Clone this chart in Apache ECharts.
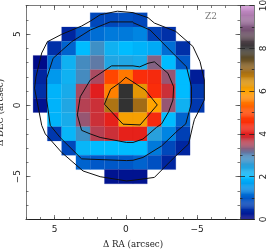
<!DOCTYPE html>
<html><head><meta charset="utf-8">
<style>html,body{margin:0;padding:0;background:#fff}#c{width:266px;height:249px}</style>
<script src="https://cdn.jsdelivr.net/npm/echarts@6/dist/echarts.min.js"></script>
</head><body><div id="c"></div>
<script>
// rows: [dec, first RA (leftmost), values going toward decreasing RA]
const row6  = [6, 2, [0.8,0.8,0.9,0.8]];
const row5  = [5, 4, [0.4,1.0,1.2,1.3,1.3,1.4,0.7,0.5]];
const row4  = [4, 5, [0.5,1.1,2.0,2.8,2.2,2.0,1.9,1.8,1.2,0.5]];
const row3  = [3, 6, [0.1,1.2,2.2,2.9,3.1,2.4,2.4,2.3,3.3,2.0,1.0]];
const row2  = [2, 6, [0.4,1.6,2.2,2.9,3.5,5.0,5.5,4.5,4.4,3.4,2.0,0.3]];
const row1  = [1, 6, [0.5,1.9,2.3,3.5,4.0,5.6,8.0,6.3,4.5,3.8,2.0,0.6]];
const row0  = [0, 6, [0.2,1.9,2.4,3.6,3.8,6.8,8.0,6.9,6.0,3.4,2.2,0.6]];
const rowM1 = [-1,5, [1.9,2.3,3.4,3.8,4.1,6.1,6.1,4.4,2.0,1.1]];
const rowM2 = [-2,5, [0.6,2.1,2.8,3.6,3.8,4.1,4.1,2.5,1.4,0.7]];
const rowM3 = [-3,4, [0.8,2.1,2.0,2.0,2.0,2.0,1.3,0.8,0.4]];
const rowM4 = [-4,3, [1.1,1.0,1.0,1.0,1.1,0.9,0.4]];
const rowM5 = [-5,1, [0.2,0.2,0.2]];
const rows = [row6,row5,row4,row3,row2,row1,row0,rowM1,rowM2,rowM3,rowM4,rowM5];

// contours, [RA, DEC]
const contourOuter = [[-0.5,6.5],[0.6,6.6],[1.8,6.35],[2.5,5.9],[3.1,5.56],[4.5,4.98],[5.5,4.46],[5.9,3.67],[6.3,2],[6.4,1.2],[6.2,0.17],[5.9,-1.4],[5.65,-2],[4.5,-3.3],[3,-4.6],[1.8,-5],[-0.05,-5.3],[-0.5,-5.25],[-2,-5.05],[-3.4,-3.64],[-4.4,-2.7],[-4.7,-1.4],[-4.8,-1],[-5.5,0.38],[-5.5,1.78],[-5.2,3.06],[-4.7,4.13],[-3.5,5.18],[-2,5.77],[-1.55,6.15],[-0.5,6.5]];
const contourSecond = [[-0.5,5.85],[1.1,5.85],[2.5,5.28],[3.8,4.46],[5.1,3.3],[5.55,1.9],[5.55,0.38],[5.3,-1.4],[4.6,-2.26],[3.1,-3.75],[-0.05,-3.87],[-0.5,-3.85],[-1.2,-3.65],[-2.5,-2.85],[-3.65,-1.75],[-4.2,-1.3],[-4.6,0.17],[-4.6,1.3],[-4.25,2.7],[-3.3,3.65],[-1.7,5.28],[-0.5,5.8]];
const contourThird = [[-0.5,2.77],[1,2.77],[1.6,2.37],[2.5,1.77],[3.2,0.6],[3.4,-0.67],[3.2,-1.4],[3.1,-1.75],[2.5,-2],[1.8,-2.25],[-0.05,-2.6],[-0.5,-2.6],[-1.2,-2.36],[-2.15,-1.54],[-2.5,-1.3],[-3,-0.45],[-3.3,0.38],[-3.35,1.3],[-2.95,2.25],[-2,3.05],[-1.55,2.95],[-0.97,2.7],[-0.5,2.77]];
const contourInner = [[0,1.97],[-1.35,1.08],[-2.2,0.03],[-1,-1.37],[0.2,-1.32],[1.5,0.08],[1.07,1.13],[0.4,1.6],[0,1.97]];
const contours = [contourOuter, contourSecond, contourThird, contourInner];

const colorStops = ['#000080','#0030a8','#0058c8','#0090e8','#00bcff','#28a0dc','#4c86b8','#aa4a60','#e11e1e','#fa2d0a','#ff4600','#ff7800','#ffa500','#d28c0a','#966419','#645028','#323232','#5a4650','#825a82','#aa78aa','#d296d7'];
const barValues = [];
for (let i = 0; i < 200; i++) barValues.push(i / 20 + 0.025);

const xTicks = [-5, 0, 5];
const yTicks = [-5, 0, 5];
const barTicks = [0, 2, 4, 6, 8, 10];
const zText = 'Z2';
const xTitle = 'Δ RA (arcsec)';
const yTitle = 'Δ DEC (arcsec)';

const cells = [];
rows.forEach(([dec, ra0, vals]) => vals.forEach((v, i) => cells.push([ra0 - i, dec, v])));

const frameGray = '#7a7a7a', dark = '#222';
const tickFont = { fontFamily: 'DejaVu Sans', fontSize: 9, color: '#222' };
const rect = { left: 26, top: 5.5, width: 214, height: 214, outerBoundsMode: 'none', containLabel: false };
const tickStyle = { color: '#444', width: 0.7 };

function xAxis(gridIndex, position, major, opts) {
  return Object.assign({
    type: 'value', gridIndex, position, min: -8, max: 7, interval: 1, inverse: true, z: 5,
    splitLine: { show: false },
    axisLine: { show: major, onZero: false, lineStyle: { color: position === 'bottom' ? dark : frameGray, width: 1 } },
    axisTick: major
      ? { show: true, inside: true, length: 4.5, customValues: xTicks, lineStyle: tickStyle }
      : { show: true, inside: true, length: 2.5, lineStyle: tickStyle },
    axisLabel: { show: false }
  }, opts || {});
}
function yAxis(gridIndex, position, major, opts) {
  return Object.assign({
    type: 'value', gridIndex, position, min: -8, max: 7, interval: 1, z: 5,
    splitLine: { show: false },
    axisLine: { show: false, onZero: false, lineStyle: { color: frameGray, width: 1 } },
    axisTick: major
      ? { show: true, inside: true, length: 4.5, customValues: yTicks, lineStyle: tickStyle }
      : { show: true, inside: true, length: 2.5, lineStyle: tickStyle },
    axisLabel: { show: false }
  }, opts || {});
}
const xLabelOpts = {
  axisLabel: Object.assign({ show: true, margin: 6, customValues: xTicks, formatter: v => String(v).replace('-', '−') }, tickFont),
  name: xTitle, nameLocation: 'middle', nameGap: 21,
  nameTextStyle: { fontFamily: 'DejaVu Serif', fontSize: 8.7, color: '#222' }
};
const yLabelOpts = {
  axisLine: { show: true, onZero: false, lineStyle: { color: frameGray, width: 1 } },
  axisLabel: Object.assign({ show: true, margin: 4, rotate: 90, customValues: yTicks, formatter: v => String(v).replace('-', '−') }, tickFont),
  name: yTitle, nameLocation: 'middle', nameGap: 20,
  nameTextStyle: { fontFamily: 'DejaVu Serif', fontSize: 8.7, color: '#222' }
};

const option = {
  animation: false,
  backgroundColor: '#fff',
  grid: [
    Object.assign({ show: false }, rect),
    Object.assign({ show: false }, rect),
    { show: false, left: 240, top: 5.5, width: 14.3, height: 214, outerBoundsMode: 'none', containLabel: false }
  ],
  xAxis: [
    xAxis(0, 'bottom', true, xLabelOpts),
    xAxis(0, 'top', true),
    xAxis(1, 'bottom', false),
    xAxis(1, 'top', false),
    { type: 'value', gridIndex: 2, min: 0, max: 1, position: 'bottom', z: 5, splitLine: { show: false },
      axisTick: { show: false }, axisLabel: { show: false },
      axisLine: { show: true, onZero: false, lineStyle: { color: dark } } },
    { type: 'value', gridIndex: 2, min: 0, max: 1, position: 'top', z: 5, splitLine: { show: false },
      axisTick: { show: false }, axisLabel: { show: false },
      axisLine: { show: true, onZero: false, lineStyle: { color: frameGray } } }
  ],
  yAxis: [
    yAxis(0, 'left', true, yLabelOpts),
    yAxis(0, 'right', true),
    yAxis(1, 'left', false),
    yAxis(1, 'right', false),
    { type: 'value', gridIndex: 2, min: 0, max: 10, interval: 2, position: 'left', z: 5, splitLine: { show: false },
      axisLine: { show: true, onZero: false, lineStyle: { color: frameGray } },
      axisTick: { show: true, inside: true, length: 5, lineStyle: { color: '#222', width: 0.8 } },
      minorTick: { show: true, splitNumber: 2, length: 2.5, lineStyle: { color: '#222', width: 0.8 } },
      axisLabel: { show: false } },
    { type: 'value', gridIndex: 2, min: 0, max: 10, interval: 2, position: 'right', z: 5, splitLine: { show: false },
      axisLine: { show: true, onZero: false, lineStyle: { color: frameGray } },
      axisTick: { show: true, inside: true, length: 5, lineStyle: { color: '#222', width: 0.8 } },
      minorTick: { show: true, splitNumber: 2, length: 2.5, lineStyle: { color: '#222', width: 0.8 } },
      axisLabel: Object.assign({ show: true, inside: false, margin: 5, rotate: 90, customValues: barTicks }, tickFont) }
  ],
  visualMap: [{
    show: false, type: 'continuous', min: 0, max: 10, dimension: 2, seriesIndex: [0, 1],
    inRange: { color: colorStops }
  }],
  graphic: [{ type: 'text', left: 205, top: 12, z: 20,
    style: { text: zText, fill: '#777', font: '9px "DejaVu Serif"' } }],
  series: [
    { type: 'custom', xAxisIndex: 0, yAxisIndex: 0, coordinateSystem: 'cartesian2d', z: 2, data: cells, clip: true,
      encode: { x: 0, y: 1 },
      renderItem(params, api) {
        const p = api.coord([api.value(0) + 0.5, api.value(1) + 0.5]);
        const q = api.coord([api.value(0) - 0.5, api.value(1) - 0.5]);
        return { type: 'rect', shape: { x: p[0], y: p[1], width: q[0] - p[0], height: q[1] - p[1] },
          style: { fill: api.visual('color'), stroke: api.visual('color'), lineWidth: 0.2 } };
      } },
    { type: 'custom', xAxisIndex: 4, yAxisIndex: 4, coordinateSystem: 'cartesian2d', z: 2,
      data: barValues.map(v => [0, v, v]), encode: { x: 0, y: 1 },
      renderItem(params, api) {
        const v = api.value(1);
        const p = api.coord([0, v + 0.03]);
        const q = api.coord([1, v - 0.03]);
        return { type: 'rect', shape: { x: p[0], y: p[1], width: q[0] - p[0], height: q[1] - p[1] },
          style: { fill: api.visual('color'), stroke: null } };
      } }
  ].concat(contours.map(c => ({
    type: 'line', xAxisIndex: 0, yAxisIndex: 0, z: 3, data: c, showSymbol: false, symbol: 'none',
    smooth: false, silent: true, lineStyle: { color: '#111', width: 1 }
  })))
};
const chart = echarts.init(document.getElementById('c'), null, { renderer: 'canvas', width: 266, height: 249 });
chart.setOption(option);
</script></body></html>
